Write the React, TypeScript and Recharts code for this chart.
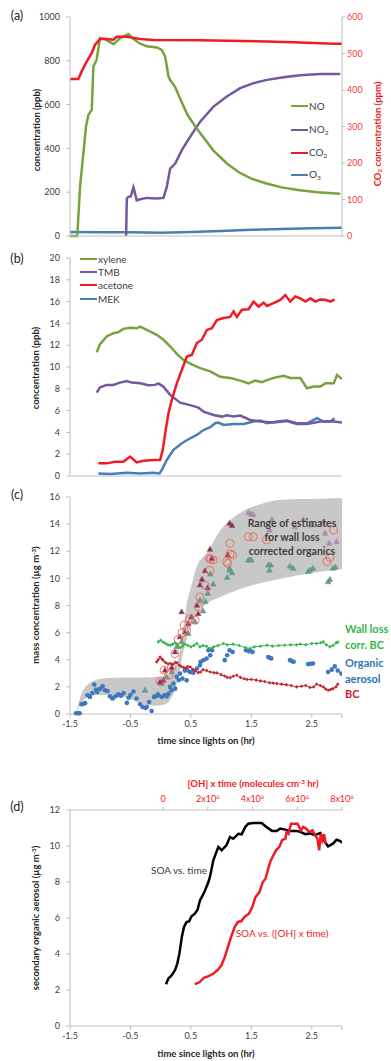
import React from "react";
import { Area, ComposedChart, Line, Scatter, XAxis, YAxis } from "recharts";

const FONT = "Lato, 'Open Sans', Arial, sans-serif";
const AXIS = "#bfbfbf";
const INK = "#404040";
const RED = "#ee1c25";
const NO_GREEN = "#77a23d";
const PURPLE = "#7458a0";
const BLUE = "#4a7ebb";

const timeTicks = [-1.5, -0.5, 0.5, 1.5, 2.5, 3];

// (a) NOx / CO2 / O3
const noTime = [-1.5, -1.38, -1.334, -1.29, -1.235, -1.196, -1.14, -1.113, -1.06, -1.003, -0.92, -0.78, -0.67, -0.534, -0.45, -0.34, -0.23, -0.064, 0.018, 0.074, 0.13, 0.156, 0.24, 0.35, 0.45, 0.6, 0.874, 1.1, 1.3, 1.5, 1.75, 2.0, 2.3, 2.6, 2.97];
const noPpb = [0, 0, 224, 347, 500, 553, 576, 774, 805, 904, 899, 876, 904, 922, 899, 878, 866, 861, 850, 820, 728, 713, 680, 610, 550, 490, 390, 330, 290, 262, 240, 222, 209, 200, 193];
const no2Time = [-0.572, -0.56, -0.534, -0.495, -0.451, -0.42, -0.396, -0.34, -0.23, -0.064, 0.046, 0.101, 0.157, 0.24, 0.35, 0.488, 0.654, 0.874, 1.095, 1.316, 1.537, 1.758, 2.034, 2.31, 2.64, 2.97];
const no2Ppb = [0, 170, 179, 181, 222, 190, 163, 168, 174, 171, 174, 224, 308, 331, 392, 453, 522, 591, 637, 675, 698, 713, 725, 734, 740, 740];
const co2Time = [-1.5, -1.362, -1.307, -1.224, -1.141, -1.086, -1.003, -0.893, -0.782, -0.727, -0.561, -0.34, -0.12, 0.654, 1.758, 2.31, 2.862, 3.0];
const co2Ppm = [430, 430, 451, 478, 501, 524, 540, 540, 538, 546, 546, 540, 537, 536, 533, 530, 527, 527];
const o3Time = [-1.5, -1.0, -0.5, 0, 0.5, 1.0, 1.5, 2.0, 2.5, 3.0];
const o3Ppb = [18, 17, 17, 15, 18, 23, 28, 32, 35, 38];

// (b) VOCs
const xyleneTime = [-1.058, -1.003, -0.893, -0.782, -0.699, -0.617, -0.506, -0.396, -0.34, -0.23, -0.064, 0.046, 0.157, 0.267, 0.377, 0.515, 0.654, 0.819, 0.985, 1.15, 1.316, 1.454, 1.565, 1.675, 1.758, 1.868, 2.034, 2.144, 2.31, 2.42, 2.531, 2.641, 2.724, 2.862, 2.917, 3.0];
const xylenePpb = [11.36, 12.1, 12.8, 13.1, 13.2, 13.5, 13.6, 13.55, 13.7, 13.4, 12.95, 12.5, 11.9, 11.2, 10.65, 10.25, 9.9, 9.6, 9.1, 9.0, 8.75, 8.5, 8.75, 8.6, 8.8, 9.0, 9.2, 9.0, 9.0, 8.05, 8.2, 8.2, 8.5, 8.5, 9.27, 8.9];
const tmbTime = [-1.058, -1.003, -0.893, -0.782, -0.672, -0.561, -0.478, -0.34, -0.202, -0.092, -0.037, 0.046, 0.157, 0.322, 0.488, 0.626, 0.709, 0.874, 1.012, 1.095, 1.206, 1.316, 1.482, 1.647, 1.868, 2.089, 2.255, 2.42, 2.641, 2.862, 3.0];
const tmbPpb = [7.65, 8.14, 8.36, 8.36, 8.57, 8.72, 8.57, 8.5, 8.33, 8.36, 8.5, 8.2, 7.44, 6.73, 6.5, 6.27, 5.9, 5.6, 5.45, 5.57, 5.45, 5.54, 5.14, 5.0, 4.9, 5.05, 4.78, 4.78, 5.0, 5.0, 4.9];
const acetoneTime = [-1.031, -0.893, -0.755, -0.617, -0.506, -0.396, -0.285, -0.12, -0.009, 0.035, 0.074, 0.129, 0.184, 0.267, 0.35, 0.433, 0.515, 0.598, 0.681, 0.764, 0.847, 0.93, 1.04, 1.15, 1.206, 1.261, 1.344, 1.454, 1.537, 1.62, 1.703, 1.758, 1.868, 1.979, 2.062, 2.144, 2.227, 2.31, 2.393, 2.476, 2.559, 2.641, 2.724, 2.807, 2.879];
const acetonePpb = [1.16, 1.16, 1.3, 1.3, 1.78, 1.25, 1.4, 1.47, 1.47, 2.4, 3.9, 5.75, 6.98, 8.5, 9.73, 10.96, 11.1, 12.2, 12.5, 13.4, 13.56, 14.3, 14.5, 14.6, 15.1, 14.6, 15.25, 15.3, 16.0, 15.55, 15.9, 15.6, 15.85, 16.16, 16.6, 16.0, 16.47, 16.3, 16.0, 16.3, 16.0, 16.2, 16.16, 16.0, 16.2];
const mekTime = [-1.031, -0.837, -0.561, -0.34, -0.12, -0.02, 0.018, 0.101, 0.212, 0.35, 0.488, 0.598, 0.709, 0.819, 0.902, 0.957, 1.04, 1.206, 1.371, 1.537, 1.647, 1.758, 1.924, 2.089, 2.255, 2.42, 2.586, 2.697, 2.807, 2.879];
const mekPpb = [0.24, 0.18, 0.3, 0.24, 0.3, 0.24, 0.55, 1.47, 2.4, 3.0, 3.46, 3.77, 4.22, 4.47, 4.84, 4.9, 4.68, 4.78, 4.78, 5.0, 5.08, 4.84, 5.0, 5.08, 4.84, 4.84, 5.3, 5.0, 5.0, 5.3];

// (c) aerosol mass
const bandTime = [-1.4, -1.3, -1.2, -1.1, -1.0, -0.75, -0.5, -0.3, -0.1, 0.05, 0.15, 0.22, 0.3, 0.375, 0.43, 0.5, 0.6, 0.75, 1.0, 1.3, 1.6, 1.9, 2.3, 2.64, 3.0];
const bandLow = [0, 0.9, 1.25, 1.38, 1.4, 1.38, 1.1, 0.7, 0.6, 0.7, 1.0, 1.6, 2.9, 4.6, 5.5, 6.5, 7.4, 8.1, 8.65, 9.2, 9.6, 9.9, 10.24, 10.49, 10.67];
const bandHigh = [0, 1.6, 2.2, 2.45, 2.6, 2.68, 2.7, 2.7, 2.72, 2.8, 2.95, 3.3, 4.2, 6.2, 8.1, 9.3, 10.9, 11.8, 13.6, 14.8, 15.4, 15.75, 15.85, 15.88, 15.9];
const oaTime = [-1.4, -1.37, -1.34, -1.31, -1.28, -1.25, -1.21, -1.17, -1.13, -1.1, -1.07, -1.05, -1.0, -0.96, -0.92, -0.88, -0.84, -0.8, -0.78, -0.74, -0.7, -0.66, -0.645, -0.61, -0.56, -0.53, -0.5, -0.45, -0.4, -0.34, -0.3, -0.25, -0.23, -0.19, -0.15, -0.11, -0.08, -0.04, 0.02, 0.07, 0.1, 0.13, 0.155, 0.18, 0.21, 0.24, 0.265, 0.3, 0.32, 0.36, 0.4, 0.43, 0.44, 0.485, 0.52, 0.54, 0.6, 0.65, 0.66, 0.71, 0.76, 0.79, 0.82, 0.85, 1.06, 1.1, 1.14, 1.19, 1.41, 1.46, 1.48, 1.52, 1.78, 1.8, 1.83, 2.14, 2.17, 2.2, 2.44, 2.48, 2.52, 2.77, 2.83, 2.88, 2.93, 2.99];
const oaConc = [0.05, 0.05, 0.05, 0.72, 0.75, 0.8, 1.38, 1.26, 1.55, 2.17, 1.8, 1.63, 1.87, 2.04, 1.75, 1.7, 1.31, 1.15, 1.21, 1.33, 1.45, 1.35, 1.4, 1.55, 0.82, 1.2, 1.4, 1.65, 1.14, 0.72, 0.52, 0.45, 0.52, 0.89, 0.22, 1.26, 1.31, 1.4, 1.26, 1.4, 1.3, 1.5, 2.0, 1.75, 2.24, 1.87, 2.74, 2.5, 2.98, 2.61, 3.2, 2.48, 3.23, 3.1, 3.1, 3.05, 3.35, 3.6, 3.84, 3.97, 4.09, 4.7, 4.33, 4.7, 3.97, 4.33, 4.7, 4.58, 4.7, 4.63, 4.65, 4.58, 4.2, 4.15, 4.1, 3.97, 3.9, 3.85, 3.68, 3.7, 3.72, 3.1, 3.27, 3.51, 3.2, 2.98];
const bcTime = [-0.066, -0.04, -0.01, 0.02, 0.04, 0.08, 0.12, 0.16, 0.2, 0.24, 0.27, 0.31, 0.34, 0.38, 0.42, 0.45, 0.49, 0.53, 0.57, 0.62, 0.66, 0.7, 0.76, 0.82, 0.88, 0.93, 1.0, 1.06, 1.1, 1.15, 1.2, 1.26, 1.32, 1.38, 1.43, 1.5, 1.58, 1.65, 1.72, 1.8, 1.86, 1.92, 2.0, 2.08, 2.16, 2.25, 2.33, 2.4, 2.47, 2.53, 2.58, 2.64, 2.69, 2.73, 2.77, 2.81, 2.85, 2.9, 2.93];
const bcConc = [3.84, 4.0, 4.2, 4.05, 3.97, 3.8, 3.7, 3.72, 3.65, 3.8, 3.77, 3.6, 3.5, 3.42, 3.4, 3.5, 3.47, 3.3, 3.2, 3.05, 3.1, 3.27, 3.2, 3.1, 3.05, 3.03, 2.9, 2.8, 2.7, 2.68, 2.78, 2.86, 2.7, 2.6, 2.54, 2.55, 2.5, 2.44, 2.4, 2.3, 2.28, 2.24, 2.2, 2.15, 2.1, 2.0, 2.05, 2.1, 1.95, 2.0, 2.2, 2.1, 2.0, 1.85, 1.75, 1.8, 1.87, 2.0, 2.2];
const wlTime = [-0.04, 0.0, 0.04, 0.08, 0.12, 0.16, 0.2, 0.24, 0.28, 0.32, 0.36, 0.4, 0.45, 0.5, 0.55, 0.6, 0.65, 0.7, 0.76, 0.82, 0.88, 0.95, 1.04, 1.1, 1.2, 1.3, 1.4, 1.48, 1.55, 1.65, 1.76, 1.85, 1.95, 2.05, 2.15, 2.25, 2.31, 2.4, 2.5, 2.58, 2.65, 2.69, 2.74, 2.8, 2.85, 2.9, 2.93];
const wlConc = [5.32, 5.44, 5.3, 5.2, 5.1, 5.07, 5.15, 5.24, 5.1, 4.9, 5.0, 5.15, 5.05, 4.95, 5.05, 5.2, 4.95, 5.05, 5.0, 4.83, 4.95, 5.05, 5.2, 5.1, 5.15, 5.05, 4.9, 4.83, 4.95, 5.0, 5.07, 5.0, 5.05, 5.07, 5.1, 5.1, 5.15, 5.1, 5.2, 5.2, 5.25, 5.32, 5.1, 4.95, 5.05, 5.24, 5.3];
const circTime = [-0.01, 0.056, 0.13, 0.18, 0.237, 0.29, 0.35, 0.386, 0.43, 0.475, 0.57, 0.625, 0.65, 0.734, 0.806, 0.816, 0.83, 0.87, 1.09, 1.11, 1.147, 1.15, 1.19, 1.45, 1.53, 1.75, 2.75, 2.8, 2.86];
const circConc = [2.41, 3.22, 2.85, 3.47, 4.45, 5.5, 5.98, 6.55, 6.18, 6.97, 6.92, 7.9, 8.64, 9.5, 11.48, 10.6, 11.4, 11.35, 11.23, 11.1, 12.58, 11.8, 11.72, 13.07, 13.07, 12.83, 11.23, 11.55, 13.57];
const purpleTriTime = [-0.01, 0.044, 0.072, 0.183, 0.237, 0.32, 0.347, 0.4, 0.457, 0.51, 0.6, 0.623, 0.651, 0.684, 0.734, 0.778, 0.816, 0.844, 1.109, 1.14, 1.18];
const purpleTriConc = [2.36, 2.48, 3.23, 3.43, 4.58, 5.69, 7.53, 6.05, 6.67, 7.16, 8.02, 7.4, 9.51, 9.93, 10.56, 9.3, 12.14, 11.47, 11.72, 14.06, 13.9];
const mauveTriTime = [1.45, 1.5, 1.53, 1.8, 1.84, 2.22, 2.36, 2.5, 2.69, 2.72, 2.79, 2.91];
const mauveTriConc = [14.85, 14.75, 14.7, 13.56, 14.35, 13.8, 14.35, 13.93, 14.18, 13.32, 12.58, 12.7];
const tealTriTime = [-0.259, -0.066, -0.04, 0.017, 0.1, 0.183, 0.265, 0.347, 0.457, 0.568, 0.651, 0.7, 0.74, 0.78, 0.82, 0.87, 1.1, 1.14, 1.14, 1.18, 1.45, 1.48, 1.5, 1.78, 1.8, 1.82, 2.14, 2.19, 2.44, 2.47, 2.52, 2.77, 2.8, 2.85, 2.89];
const tealTriConc = [1.75, 1.38, 1.45, 2.24, 2.73, 3.1, 4.95, 5.32, 5.94, 6.8, 8.4, 7.6, 8.3, 8.9, 10.32, 9.58, 10.07, 10.74, 10.6, 10.42, 11.35, 11.35, 11.35, 10.98, 10.6, 10.98, 10.9, 10.74, 10.5, 10.6, 10.74, 9.75, 9.92, 10.74, 10.82];

// (d) SOA vs time and vs OH exposure (x10^6 molecules cm-3 hr)
const soaTime = [0.088, 0.126, 0.18, 0.237, 0.275, 0.31, 0.35, 0.386, 0.43, 0.47, 0.51, 0.565, 0.61, 0.65, 0.695, 0.73, 0.79, 0.815, 0.86, 0.871, 0.954, 1.01, 1.09, 1.147, 1.2, 1.285, 1.34, 1.4, 1.45, 1.53, 1.67, 1.75, 1.84, 1.92, 1.98, 2.06, 2.14, 2.23, 2.31, 2.39, 2.47, 2.55, 2.64, 2.72, 2.77, 2.85, 2.91, 2.97, 3.0];
const soaVsTime = [2.32, 2.63, 2.81, 3.1, 3.47, 4.02, 4.95, 5.5, 5.78, 5.81, 6.09, 6.24, 6.46, 6.98, 7.26, 7.5, 8.0, 8.28, 9.02, 9.2, 9.95, 9.77, 10.05, 10.5, 10.4, 10.68, 10.65, 11.06, 11.24, 11.28, 11.28, 11.06, 10.84, 10.84, 10.97, 10.91, 10.84, 10.84, 10.79, 10.66, 10.7, 10.6, 10.72, 10.22, 9.98, 10.13, 10.35, 10.28, 10.17];
const ohExposure = [1.42, 1.64, 1.82, 2.01, 2.24, 2.46, 2.61, 2.76, 2.9, 3.05, 3.2, 3.35, 3.5, 3.64, 3.84, 3.99, 4.13, 4.31, 4.46, 4.58, 4.68, 4.79, 4.9, 5.05, 5.2, 5.32, 5.47, 5.52, 5.61, 5.72, 5.87, 6.01, 6.16, 6.27, 6.39, 6.53, 6.68, 6.8, 6.9, 6.98, 7.05, 7.12, 7.2, 7.27];
const soaVsOh = [2.32, 2.44, 2.68, 2.76, 2.9, 3.13, 3.37, 3.83, 4.39, 4.98, 5.5, 5.78, 5.83, 6.06, 6.24, 6.61, 7.16, 7.44, 8.0, 8.18, 8.65, 9.11, 9.4, 9.76, 9.95, 10.32, 10.41, 10.78, 10.68, 11.24, 11.24, 11.24, 10.87, 11.06, 10.97, 10.78, 10.87, 10.6, 10.41, 9.76, 10.68, 10.32, 10.66, 10.13];
const ohTicks = [0, 2, 4, 6, 8];

const zip = (ts: number[], vs: number[]) => ts.map((t, i) => ({ t, v: vs[i] }));

const tickStyle = { fill: INK, fontSize: 9, fontFamily: FONT };
const timeFmt = (v: number) => (v === 3 ? "" : String(v));

function Txt({ x, y, children, style, rotate, align = "center" }: any) {
  const tx = align === "left" ? "0" : "-50%";
  return (
    <div
      style={{
        position: "absolute",
        left: x,
        top: y,
        transform: `translate(${tx},-50%)${rotate ? ` rotate(${rotate}deg)` : ""}`,
        whiteSpace: "nowrap",
        fontFamily: FONT,
        lineHeight: 1,
        ...style,
      }}
    >
      {children}
    </div>
  );
}

function LegendRow({ x, y, color, children }: any) {
  return (
    <>
      <div style={{ position: "absolute", left: x, top: y - 1.25, width: 17, height: 2.5, background: color }} />
      <Txt x={x + 18} y={y} align="left" style={{ fontSize: 10, color: INK }}>
        {children}
      </Txt>
    </>
  );
}

const sub = { fontSize: "0.65em", verticalAlign: "-0.25em" } as const;
const sup = { fontSize: "0.65em", verticalAlign: "0.45em" } as const;

const dotShape = (fill: string, r: number) => (p: any) => <circle cx={p.cx} cy={p.cy} r={r} fill={fill} />;
const ringShape = (stroke: string) => (p: any) => (
  <circle cx={p.cx} cy={p.cy} r={4} fill="none" stroke={stroke} strokeWidth={0.9} />
);
const triShape = (fill: string, stroke: string) => (p: any) => (
  <polygon
    points={`${p.cx},${p.cy - 3} ${p.cx - 2.8},${p.cy + 2} ${p.cx + 2.8},${p.cy + 2}`}
    fill={fill}
    stroke={stroke}
    strokeWidth={0.6}
  />
);
const diamondShape = (fill: string) => (p: any) => (
  <polygon points={`${p.cx},${p.cy - 1.8} ${p.cx + 1.8},${p.cy} ${p.cx},${p.cy + 1.8} ${p.cx - 1.8},${p.cy}`} fill={fill} />
);

function OhTick(p: any) {
  const v = p.payload.value;
  return (
    <text x={p.x} y={p.y} textAnchor="middle" fill={RED} fontSize={9} fontFamily={FONT}>
      {v === 0 ? (
        "0"
      ) : (
        <>
          <tspan>{`${v}x10`}</tspan>
          <tspan dy={-3.5} fontSize={6}>
            6
          </tspan>
        </>
      )}
    </text>
  );
}

function timeAxis(showLabels: boolean, height: number) {
  return (
    <XAxis
      dataKey="t"
      type="number"
      domain={[-1.5, 3]}
      ticks={timeTicks}
      allowDataOverflow
      height={height}
      tick={showLabels ? tickStyle : false}
      tickFormatter={timeFmt}
      tickSize={4}
      tickMargin={3}
      axisLine={{ stroke: AXIS }}
      tickLine={{ stroke: AXIS }}
    />
  );
}

function leftAxis(max: number, step: number, id?: string) {
  const ticks: number[] = [];
  for (let v = 0; v <= max; v += step) ticks.push(v);
  return (
    <YAxis
      yAxisId={id ?? 0}
      dataKey="v"
      type="number"
      domain={[0, max]}
      ticks={ticks}
      width={70}
      tick={tickStyle}
      tickSize={4}
      tickMargin={6}
      axisLine={{ stroke: AXIS }}
      tickLine={{ stroke: AXIS }}
    />
  );
}

const lineProps = { dot: false, activeDot: false, isAnimationActive: false, type: "linear" as const, strokeWidth: 2.5 };

function PanelA() {
  return (
    <ComposedChart width={391} height={250} margin={{ top: 17, right: 0, bottom: 0, left: 0 }}>
      {timeAxis(false, 14)}
      {leftAxis(1000, 200, "left")}
      <YAxis
        yAxisId="right"
        orientation="right"
        dataKey="v"
        type="number"
        domain={[0, 600]}
        ticks={[0, 100, 200, 300, 400, 500, 600]}
        width={49}
        tick={{ ...tickStyle, fill: "#ff3b3b" }}
        tickSize={3}
        tickMargin={2}
        axisLine={{ stroke: AXIS }}
        tickLine={{ stroke: AXIS }}
      />
      <Line yAxisId="left" data={zip(o3Time, o3Ppb)} dataKey="v" stroke={BLUE} {...lineProps} />
      <Line yAxisId="left" data={zip(no2Time, no2Ppb)} dataKey="v" stroke={PURPLE} {...lineProps} />
      <Line yAxisId="left" data={zip(noTime, noPpb)} dataKey="v" stroke={NO_GREEN} {...lineProps} />
      <Line yAxisId="right" data={zip(co2Time, co2Ppm)} dataKey="v" stroke={RED} {...lineProps} />
    </ComposedChart>
  );
}

function PanelB() {
  return (
    <ComposedChart width={391} height={240} margin={{ top: 8, right: 49, bottom: 0, left: 0 }}>
      {timeAxis(false, 14)}
      {leftAxis(20, 2)}
      <Line data={zip(mekTime, mekPpb)} dataKey="v" stroke={BLUE} {...lineProps} />
      <Line data={zip(tmbTime, tmbPpb)} dataKey="v" stroke={PURPLE} {...lineProps} />
      <Line data={zip(xyleneTime, xylenePpb)} dataKey="v" stroke={NO_GREEN} {...lineProps} />
      <Line data={zip(acetoneTime, acetonePpb)} dataKey="v" stroke={RED} {...lineProps} />
    </ComposedChart>
  );
}

const bandData = bandTime.map((t, i) => ({ t, range: [bandLow[i], bandHigh[i]] }));

function PanelC() {
  return (
    <ComposedChart width={391} height={244} data={bandData} margin={{ top: 7, right: 49, bottom: 0, left: 0 }}>
      {timeAxis(true, 20)}
      {leftAxis(16, 2)}
      <Area dataKey="range" type="monotone" fill="#c8c8c8" fillOpacity={1} stroke="none" isAnimationActive={false} activeDot={false} />
      <Scatter data={zip(tealTriTime, tealTriConc)} shape={triShape("#5f9c8a", "#5f9c8a")} isAnimationActive={false} />
      <Scatter data={zip(mauveTriTime, mauveTriConc)} shape={triShape("#a98bb5", "#b48a9e")} isAnimationActive={false} />
      <Scatter data={zip(purpleTriTime, purpleTriConc)} shape={triShape("#6e2c82", "#c8463c")} isAnimationActive={false} />
      <Scatter data={zip(circTime, circConc)} shape={ringShape("#e56b58")} isAnimationActive={false} />
      <Scatter data={zip(oaTime, oaConc)} shape={dotShape("#3f78bd", 2.3)} isAnimationActive={false} />
      <Scatter
        data={zip(wlTime, wlConc)}
        line={{ stroke: "#33b54a", strokeWidth: 1 }}
        shape={diamondShape("#33b54a")}
        isAnimationActive={false}
      />
      <Scatter
        data={zip(bcTime, bcConc)}
        line={{ stroke: "#c1272d", strokeWidth: 1 }}
        shape={diamondShape("#c1272d")}
        isAnimationActive={false}
      />
    </ComposedChart>
  );
}

function PanelD() {
  return (
    <ComposedChart width={391} height={256} margin={{ top: 0, right: 49, bottom: 0, left: 0 }}>
      <XAxis
        xAxisId="t"
        dataKey="t"
        type="number"
        domain={[-1.5, 3]}
        ticks={timeTicks}
        allowDataOverflow
        height={20}
        tick={tickStyle}
        tickFormatter={timeFmt}
        tickSize={4}
        tickMargin={3}
        axisLine={{ stroke: AXIS }}
        tickLine={{ stroke: AXIS }}
      />
      <XAxis
        xAxisId="oh"
        orientation="top"
        dataKey="oh"
        type="number"
        domain={[-4.16, 8]}
        ticks={ohTicks}
        allowDataOverflow
        height={20}
        tick={<OhTick />}
        tickSize={3}
        tickMargin={5}
        axisLine={{ stroke: AXIS }}
        tickLine={{ stroke: AXIS }}
      />
      {leftAxis(12, 2)}
      <Line xAxisId="t" data={zip(soaTime, soaVsTime)} dataKey="v" stroke="#000000" {...lineProps} />
      <Line
        xAxisId="oh"
        data={ohExposure.map((oh, i) => ({ oh, v: soaVsOh[i] }))}
        dataKey="v"
        stroke={RED}
        {...lineProps}
      />
    </ComposedChart>
  );
}

const titleStyle = { fontSize: 9.5, fontWeight: 700, color: "#262626" };
const panelLetter = { fontSize: 12.5, color: "#262626" };

export default function App() {
  return (
    <div
      style={{
        position: "absolute",
        left: 0,
        top: 0,
        width: 391,
        height: 1061,
        overflow: "hidden",
        background: "#ffffff",
        fontFamily: FONT,
      }}
    >
      <div style={{ position: "absolute", left: 0, top: 0 }}>
        <PanelA />
      </div>
      <div style={{ position: "absolute", left: 0, top: 250 }}>
        <PanelB />
      </div>
      <div style={{ position: "absolute", left: 0, top: 490 }}>
        <PanelC />
      </div>
      <div style={{ position: "absolute", left: 0, top: 790 }}>
        <PanelD />
      </div>

      {/* panel letters */}
      <Txt x={17} y={16} style={panelLetter}>(a)</Txt>
      <Txt x={17} y={259} style={panelLetter}>(b)</Txt>
      <Txt x={17} y={495} style={panelLetter}>(c)</Txt>
      <Txt x={17} y={807} style={panelLetter}>(d)</Txt>

      {/* axis titles */}
      <Txt x={37} y={130} rotate={-90} style={titleStyle}>concentration (ppb)</Txt>
      <Txt x={378} y={134} rotate={-90} style={{ ...titleStyle, color: RED }}>
        CO<span style={sub}>2</span> concentration (ppm)
      </Txt>
      <Txt x={36} y={368} rotate={-90} style={titleStyle}>concentration (ppb)</Txt>
      <Txt x={36} y={605} rotate={-90} style={titleStyle}>
        mass concentration (µg m<span style={sup}>-3</span>)
      </Txt>
      <Txt x={206} y={741} style={titleStyle}>time since lights on (hr)</Txt>
      <Txt x={36} y={918} rotate={-90} style={titleStyle}>
        secondary organic aerosol (µg m<span style={sup}>-3</span>)
      </Txt>
      <Txt x={206} y={1054} style={titleStyle}>time since lights on (hr)</Txt>
      <Txt x={253} y={784} style={{ ...titleStyle, color: RED }}>
        [OH] x time (molecules cm<span style={sup}>-3</span> hr)
      </Txt>

      {/* legend (a) */}
      <LegendRow x={291} y={106} color={NO_GREEN}>NO</LegendRow>
      <LegendRow x={291} y={130} color={PURPLE}>
        NO<span style={sub}>2</span>
      </LegendRow>
      <LegendRow x={291} y={153} color={RED}>
        CO<span style={sub}>2</span>
      </LegendRow>
      <LegendRow x={291} y={175} color={BLUE}>
        O<span style={sub}>3</span>
      </LegendRow>

      {/* legend (b) */}
      <LegendRow x={80} y={259} color={NO_GREEN}>xylene</LegendRow>
      <LegendRow x={80} y={272} color={PURPLE}>TMB</LegendRow>
      <LegendRow x={80} y={285} color={RED}>acetone</LegendRow>
      <LegendRow x={80} y={299} color={BLUE}>MEK</LegendRow>

      {/* annotations (c) */}
      <Txt x={292} y={537} style={{ fontSize: 10.5, fontWeight: 700, color: INK, lineHeight: "14px", textAlign: "center" }}>
        Range of estimates
        <br />
        for wall loss
        <br />
        corrected organics
      </Txt>
      <Txt x={345} y={637} align="left" style={{ fontSize: 11, fontWeight: 700, color: "#33b54a", lineHeight: "16px" }}>
        Wall loss
        <br />
        corr. BC
      </Txt>
      <Txt x={345} y={671} align="left" style={{ fontSize: 11, fontWeight: 700, color: "#2e75b6", lineHeight: "16px" }}>
        Organic
        <br />
        aerosol
      </Txt>
      <Txt x={345} y={693} align="left" style={{ fontSize: 11, fontWeight: 700, color: "#c1272d" }}>
        BC
      </Txt>

      {/* annotations (d) */}
      <Txt x={179} y={870} style={{ fontSize: 10, color: INK }}>SOA vs. time</Txt>
      <Txt x={282} y={933} style={{ fontSize: 10, color: RED }}>SOA vs. ([OH] x time)</Txt>
    </div>
  );
}
